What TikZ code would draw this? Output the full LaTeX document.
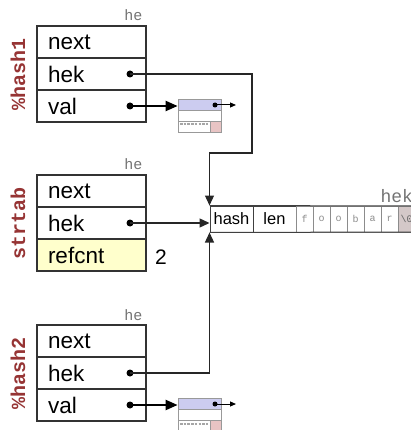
\documentclass[tikz,border=0pt]{standalone}
\usepackage{fontspec}
\setmainfont{Liberation Sans}
\setmonofont{Liberation Mono}
\usetikzlibrary{arrows.meta}
\definecolor{lblred}{RGB}{150,52,52}
\definecolor{svblue}{RGB}{204,204,240}
\definecolor{svpink}{RGB}{232,196,196}
\definecolor{refyellow}{RGB}{255,255,204}
\definecolor{nulgray}{RGB}{212,200,200}
\begin{document}
\begin{tikzpicture}[x=1pt,y=-1pt]
\tikzset{
  field/.style={draw=black!80, line width=1.5pt, minimum width=109pt, minimum height=32pt,
    text width=87pt, inner xsep=11pt, inner ysep=0pt, align=left,
    font=\fontsize{22.5}{22.5}\selectfont},
  varlabel/.style={rotate=90, font=\ttfamily\bfseries\fontsize{20}{20}\selectfont, text=lblred},
  helabel/.style={anchor=base east, font=\ttfamily\fontsize{15}{15}\selectfont, text=black!55},
  dot/.style={circle, fill=black, minimum size=7pt, inner sep=0pt},
  smalldot/.style={circle, fill=black, minimum size=5pt, inner sep=0pt},
  ptr/.style={draw=black!85, line width=1.3pt, -{Triangle[length=10pt,width=9pt]}},
  valptr/.style={draw=black, line width=2.2pt, -{Triangle[length=12pt,width=10pt]}},
  svptr/.style={draw=black, line width=1pt, -{Triangle[length=6pt,width=5pt]}},
  svrow/.style={draw=black!40, line width=0.8pt, minimum width=43pt, minimum height=11pt, inner sep=0pt},
  hekcell/.style={draw=black!75, line width=1pt, minimum height=26pt, inner sep=0pt,
    font=\fontsize{16.5}{16.5}\selectfont},
  charcell/.style={draw=black!45, line width=0.8pt, minimum width=17pt, minimum height=26pt, inner sep=0pt,
    font=\ttfamily\fontsize{10}{10}\selectfont, text=black!45},
}
\useasboundingbox (0,0) rectangle (411,430);

% ---------- %hash1 ----------
\node[varlabel] (lab1) at (18,74) {\%hash1};
\node[field] (h1next) at (91.5,42) {next};
\node[field] (h1hek)  at (91.5,74) {hek};
\node[field] (h1val)  at (91.5,106) {val};
\node[helabel] (he1) at (146,21) {he};
\node[dot] (h1hekdot) at (130,74) {};
\node[dot] (h1valdot) at (130,106) {};

% SV box 1
\node[svrow, fill=svblue] (sv1a) at (199.5,104.5) {};
\node[svrow, fill=white]  (sv1b) at (199.5,115.5) {};
\node[svrow, fill=white]  (sv1c) at (199.5,126.5) {};
\node[draw=black!40, line width=0.8pt, fill=svpink, minimum width=11pt, minimum height=11pt, inner sep=0pt] (sv1p) at (215.5,126.5) {};
\draw[black!35, line width=2pt, dash pattern=on 2.5pt off 1.2pt] (180,124.5) -- (209,124.5);
\node[smalldot] (sv1dot) at (215,105) {};
\coordinate (sv1end) at (236,105);
\draw[svptr] (sv1dot.center) -- (sv1end);

% ---------- strtab ----------
\node[varlabel] (lab2) at (18,223) {strtab};
\node[field] (snext) at (91.5,191) {next};
\node[field] (shek)  at (91.5,223) {hek};
\node[field, fill=refyellow] (srefc) at (91.5,255) {refcnt};
\node[helabel] (he2) at (146,170) {he};
\node[dot] (shekdot) at (130,223) {};
\node[font=\fontsize{21}{21}\selectfont] (cnt) at (161,257) {2};

% ---------- %hash2 ----------
\node[varlabel] (lab3) at (18,373) {\%hash2};
\node[field] (h2next) at (91.5,341) {next};
\node[field] (h2hek)  at (91.5,373) {hek};
\node[field] (h2val)  at (91.5,405) {val};
\node[helabel] (he3) at (146,320) {he};
\node[dot] (h2hekdot) at (130,373) {};
\node[dot] (h2valdot) at (130,405) {};

% SV box 2
\node[svrow, fill=svblue] (sv2a) at (199.5,403.5) {};
\node[svrow, fill=white]  (sv2b) at (199.5,414.5) {};
\node[svrow, fill=white]  (sv2c) at (199.5,425.5) {};
\node[draw=black!40, line width=0.8pt, fill=svpink, minimum width=11pt, minimum height=11pt, inner sep=0pt] (sv2p) at (215.5,425.5) {};
\draw[black!35, line width=2pt, dash pattern=on 2.5pt off 1.2pt] (180,423.5) -- (209,423.5);
\node[smalldot] (sv2dot) at (215,404) {};
\coordinate (sv2end) at (236,404);
\draw[svptr] (sv2dot.center) -- (sv2end);

% ---------- HEK ----------
\node[hekcell, minimum width=43pt] (hash) at (231.5,219) {hash};
\node[hekcell, minimum width=43pt] (len)  at (274.5,219) {len};
\node[charcell] (cf) at (304.5,219) {f};
\node[charcell] (co1) at (321.5,219) {o};
\node[charcell] (co2) at (338.5,219) {o};
\node[charcell] (cb) at (355.5,219) {b};
\node[charcell] (ca) at (372.5,219) {a};
\node[charcell] (cr) at (389.5,219) {r};
\node[charcell, fill=nulgray, text=black!60] (cnul) at (406.5,219) {\textbackslash0};
\draw[black!75, line width=1pt] (hash.north west) -- (411,206) (hash.south west) -- (411,232);
\node[anchor=base west, font=\ttfamily\fontsize{18}{18}\selectfont, text=black!55] (heklab) at (377,202) {hek};

% ---------- connectors ----------
\coordinate (bend1) at (252,153);
\draw[ptr] (h1hekdot.center) -| (bend1) -| (hash.north west);
\draw[ptr] (shekdot.center) -- (shekdot -| hash.west);
\draw[ptr] (h2hekdot.center) -| (hash.south west);
\draw[valptr] (h1valdot.center) -- (h1valdot -| sv1a.west);
\draw[valptr] (h2valdot.center) -- (h2valdot -| sv2a.west);
\end{tikzpicture}
\end{document}
